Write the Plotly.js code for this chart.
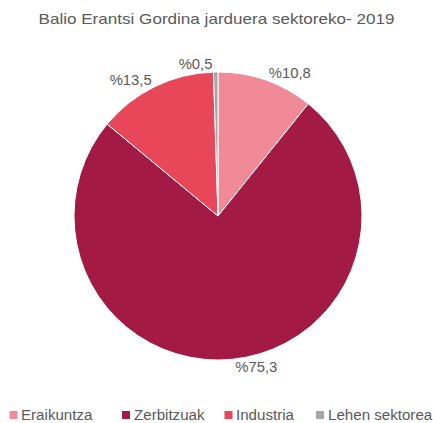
<!DOCTYPE html>
<html>
<head>
<meta charset="utf-8">
<script src="https://cdn.plot.ly/plotly-3.0.1.min.js"></script>
<style>html,body{margin:0;padding:0;background:#fff;}#chart{width:433px;height:423px;}</style>
</head>
<body>
<div id="chart"></div>
<script>
var categories = ["Eraikuntza", "Zerbitzuak", "Industria", "Lehen sektorea"];
var values = [10.8, 75.3, 13.5, 0.5];
var valueLabels = ["%10,8", "%75,3", "%13,5", "%0,5"];
var colors = ["#F08A96", "#A31A45", "#E8475A", "#A6A6A6"];

var W = 433, H = 423;
var FONT = "Liberation Sans, Arial, sans-serif";
var GREY = "#595959";

// legend layout (pixel positions of the legend squares' left edges)
var legendSquareX = [9.5, 122, 224.5, 316];
var legendY = 415, sq = 8;

function px(x) { return x / W; }
function py(y) { return 1 - y / H; }

var trace = {
  type: "pie",
  labels: categories,
  values: values,
  text: valueLabels,
  texttemplate: "%{text}",
  textposition: "outside",
  hoverinfo: "label+percent",
  sort: false,
  direction: "clockwise",
  rotation: 0,
  marker: {colors: colors, line: {color: "#ffffff", width: 1}},
  outsidetextfont: {family: FONT, size: 14, color: GREY},
  domain: {x: [px(74), px(362)], y: [py(360), py(72)]},
  showlegend: false
};

var shapes = [], annotations = [];
categories.forEach(function (c, i) {
  shapes.push({
    type: "rect", xref: "paper", yref: "paper",
    x0: px(legendSquareX[i]), x1: px(legendSquareX[i] + sq),
    y0: py(legendY + sq / 2), y1: py(legendY - sq / 2),
    fillcolor: colors[i], line: {width: 0}
  });
  annotations.push({
    xref: "paper", yref: "paper",
    x: px(legendSquareX[i] + sq + 1.5), y: py(legendY),
    xanchor: "left", yanchor: "middle",
    text: c, showarrow: false,
    font: {family: FONT, size: 14, color: GREY}
  });
});

var layout = {
  width: W, height: H,
  margin: {l: 0, r: 0, t: 0, b: 0},
  paper_bgcolor: "#ffffff",
  font: {family: FONT, color: GREY},
  title: {text: "Balio Erantsi Gordina jarduera sektoreko- 2019", font: {family: FONT, size: 14, color: GREY}, x: 0.5, xanchor: "center", y: py(19.5), yanchor: "middle"},
  showlegend: false,
  shapes: shapes,
  annotations: annotations
};

// horizontally widen text glyphs to match the reference's wide lettering
function stretch(nodes, s, origin) {
  nodes.forEach(function (el) {
    var b = el.getBBox();
    var cx = origin === "left" ? b.x : b.x + b.width / 2;
    var t = el.getAttribute("transform") || "";
    el.setAttribute("transform", t + " translate(" + cx + ",0) scale(" + s + ",1) translate(" + (-cx) + ",0)");
  });
}

Plotly.newPlot("chart", [trace], layout, {displayModeBar: false, staticPlot: true}).then(function (gd) {
  var q = function (sel) { return Array.prototype.slice.call(gd.querySelectorAll(sel)); };
  stretch(q("text.gtitle"), 1.22, "center");
  stretch(q("text.slicetext"), 1.06, "center");
  stretch(q("text.annotation-text"), 1.08, "left");
});
</script>
</body>
</html>
